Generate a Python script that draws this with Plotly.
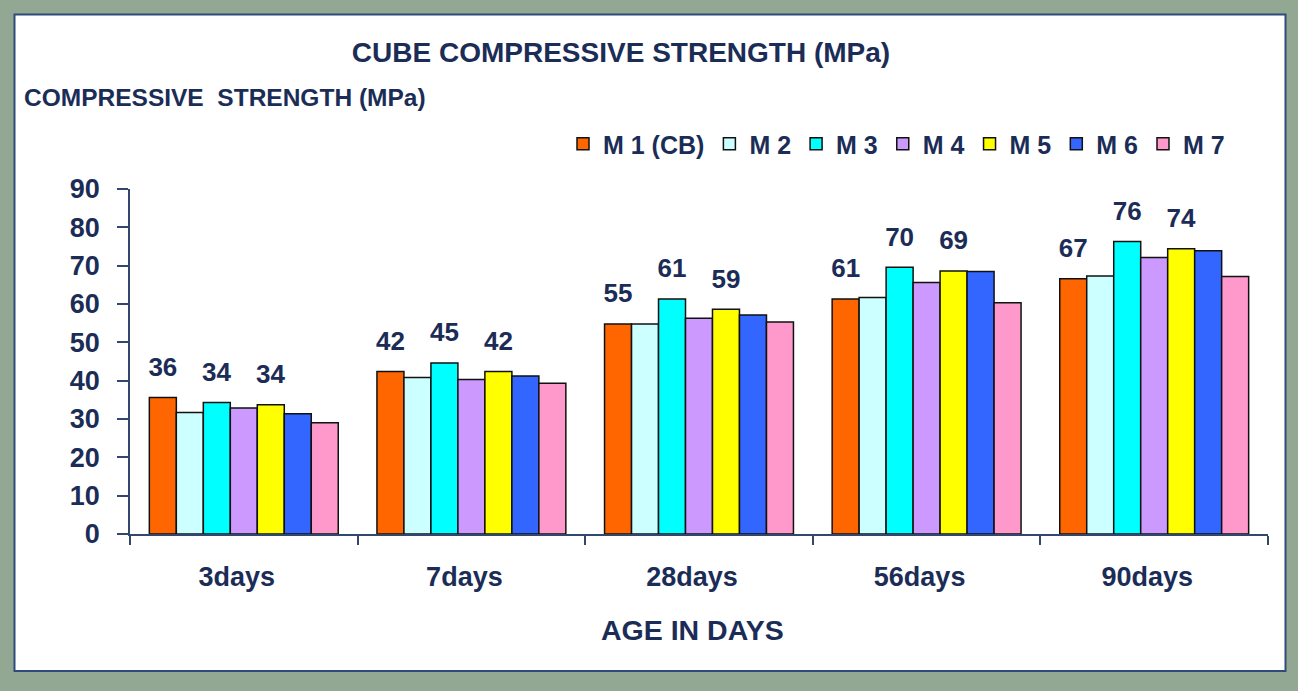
import plotly.graph_objects as go

# compressive strength (MPa) per mix
ages = ["3days", "7days", "28days", "56days", "90days"]
mixes = ["M 1 (CB)", "M 2", "M 3", "M 4", "M 5", "M 6", "M 7"]
m1 = [35.6, 42.4, 54.8, 61.3, 66.6]
m2 = [31.7, 40.8, 54.8, 61.7, 67.3]
m3 = [34.3, 44.6, 61.3, 69.6, 76.3]
m4 = [32.9, 40.3, 56.3, 65.6, 72.1]
m5 = [33.7, 42.4, 58.6, 68.6, 74.4]
m6 = [31.4, 41.2, 57.1, 68.5, 73.9]
m7 = [29.0, 39.3, 55.3, 60.3, 67.2]
series = [m1, m2, m3, m4, m5, m6, m7]
colors = ["#FF6600", "#CCFFFF", "#00FFFF", "#CC99FF", "#FFFF00", "#3366FF", "#FF99CC"]
labelled = ["M 1 (CB)", "M 3", "M 5"]

NAVY = "#1B2D57"
AXIS = "#33476E"
FONT = "Liberation Sans, Arial, sans-serif"
W, H = 1298, 691
# plot area in pixels
L, R, T, B = 130, 1268, 189, 534


def px_x(px):
    return (px - L) / (R - L)


def px_y(py):
    return (B - py) / (B - T)


fig = go.Figure()

for name, vals, col in zip(mixes, series, colors):
    bar = go.Bar(
        x=ages,
        y=vals,
        name=name,
        marker=dict(color=col, line=dict(color="#111111", width=1.5)),
        cliponaxis=False,
    )
    if name in labelled:
        bar.update(
            texttemplate="<span style='font-size:26px'>%{y:.0f}</span><br> ",
            textposition="outside",
            constraintext="none",
            textfont=dict(family=FONT, size=12, color=NAVY, weight="bold"),
        )
    fig.add_trace(bar)

fig.update_layout(
    width=W,
    height=H,
    margin=dict(l=L, r=W - R, t=T, b=H - B, pad=0),
    paper_bgcolor="#93A892",
    plot_bgcolor="white",
    barmode="group",
    bargap=0.17,
    bargroupgap=0,
    font=dict(family=FONT, color=NAVY, weight="bold"),
    title=dict(
        text="CUBE COMPRESSIVE STRENGTH (MPa)",
        font=dict(size=28, family=FONT, color=NAVY, weight="bold"),
        xref="container", yref="container",
        x=621 / W, y=1 - 52 / H,
        xanchor="center", yanchor="middle",
    ),
    legend=dict(
        orientation="h",
        x=px_x(563), y=px_y(144),
        xanchor="left", yanchor="middle",
        font=dict(size=25, family=FONT, color=NAVY, weight="bold"),
        bgcolor="rgba(0,0,0,0)",
        tracegroupgap=0,
    ),
    showlegend=True,
)

fig.update_xaxes(
    showline=True, linecolor=AXIS, linewidth=1.5,
    ticks="outside", tickson="boundaries", ticklen=9, tickcolor=AXIS, tickwidth=1.5,
    tickfont=dict(size=27, family=FONT, color=NAVY, weight="bold"),
    ticklabelstandoff=18, ticklabelshift=-7,
    showgrid=False,
)
fig.update_yaxes(
    range=[0, 90], dtick=10,
    showline=True, linecolor=AXIS, linewidth=1.5,
    ticks="outside", ticklen=11, tickcolor=AXIS, tickwidth=1.5,
    tickfont=dict(size=27, family=FONT, color=NAVY, weight="bold"),
    ticklabelstandoff=12,
    showgrid=False, zeroline=False,
)

# white panel with navy frame over the green background
fig.add_shape(
    type="rect", xref="paper", yref="paper", layer="below",
    x0=px_x(14.5), x1=px_x(1285.5), y0=px_y(671), y1=px_y(14.5),
    fillcolor="white", line=dict(color="#2F4B7C", width=2),
)

fig.add_annotation(
    text="COMPRESSIVE  STRENGTH (MPa)",
    xref="paper", yref="paper", x=px_x(22), y=px_y(98),
    xanchor="left", yanchor="middle", showarrow=False,
    font=dict(size=24.5, family=FONT, color=NAVY, weight="bold"),
)
fig.add_annotation(
    text="AGE IN DAYS",
    xref="paper", yref="paper", x=px_x(692), y=px_y(630),
    xanchor="center", yanchor="middle", showarrow=False,
    font=dict(size=28.5, family=FONT, color=NAVY, weight="bold"),
)

# the page body has a default margin; remove it so the figure sits at 0,0
fig.write_html(
    "out.html",
    config={"displayModeBar": False},
    post_script="document.body.style.margin='0';",
)
